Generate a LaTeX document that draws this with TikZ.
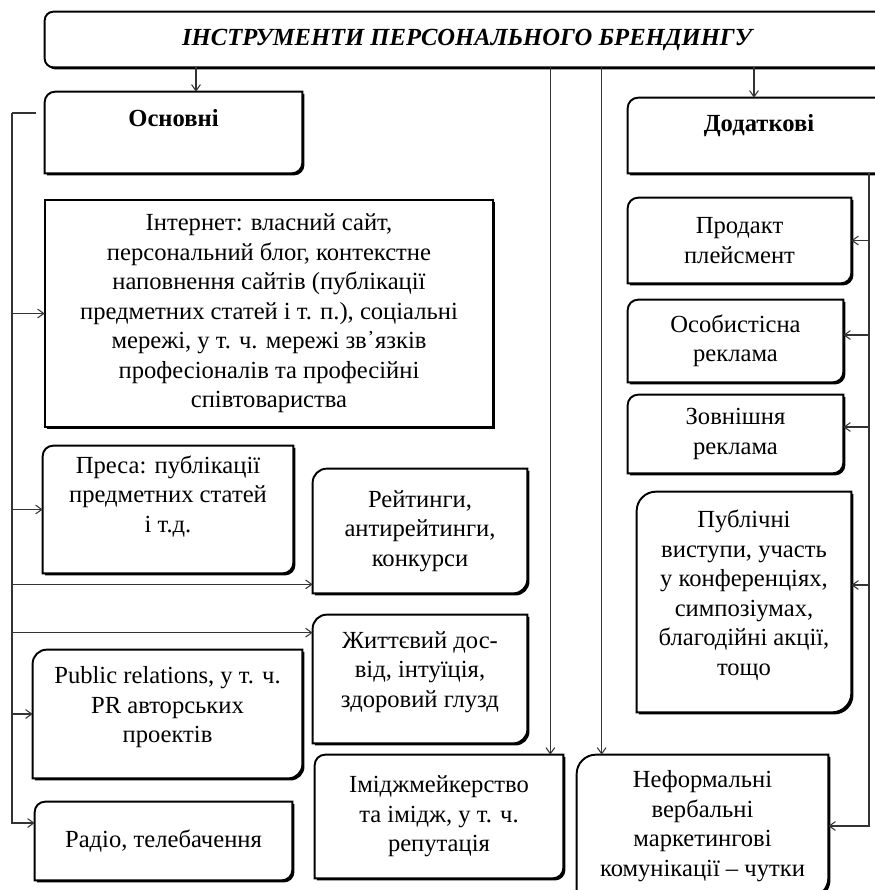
\documentclass[tikz,border=0pt]{standalone}
\usepackage{fontspec}
\setmainfont{Liberation Serif}
\usetikzlibrary{arrows.meta, backgrounds, shadows}
\definecolor{framedark}{HTML}{000000}
\definecolor{arrowgray}{HTML}{333333}

% frame with two rounded corners (top-left and bottom-right)
\newcommand{\brandframe}[2][rounded corners=6pt]{%
  \filldraw[frameline]
    (#2.north) -- (#2.north east) [#1] -- (#2.south east) [sharp corners]
    -- (#2.south west) [#1] -- (#2.north west) [sharp corners] -- cycle;}

\begin{document}
\begin{tikzpicture}[
  >={Straight Barb[length=3.5pt,width=5pt]},
  item/.style={
    rectangle, align=center, inner sep=2pt,
    font=\fontsize{14}{16.8}\selectfont
  },
  head/.style={item, font=\fontsize{14}{16.8}\selectfont\bfseries},
  lift/.style={text depth=#1},
  frameline/.style={
    fill=white, draw=framedark, line width=1.1pt,
    drop shadow={shadow xshift=1.2pt, shadow yshift=-1.2pt,
                 opacity=1, fill=framedark}
  },
  busline/.style={line width=0.6pt, draw=arrowgray},
  link/.style={->, line width=0.6pt, draw=arrowgray}
]
\useasboundingbox (0,0) rectangle (17.5,-17.8);
\clip (0,0) rectangle (17.5,-17.8);

% ── Title ─────────────────────────────────────────────────────────────────
\node[item, font=\fontsize{14}{16.8}\selectfont\bfseries\itshape,
      minimum width=16.88cm, minimum height=1.1cm]
  (title) at (9.34,-0.79) {ІНСТРУМЕНТИ ПЕРСОНАЛЬНОГО БРЕНДИНГУ};

% ── Main tools (left) ─────────────────────────────────────────────────────
\node[head, lift=0.58cm, minimum width=5.14cm, minimum height=1.62cm]
  (osn) at (3.47,-2.65) {Основні};

\node[item, minimum width=8.96cm, minimum height=4.54cm]
  (inet) at (5.38,-6.27) {Інтернет: власний сайт,\\
    персональний блог, контекстне\\
    наповнення сайтів (публікації\\
    предметних статей і т. п.), соціальні\\
    мережі, у т. ч. мережі зв᾽язків\\
    професіоналів та професійні\\
    співтовариства};

\node[item, lift=0.62cm, minimum width=5.0cm, minimum height=2.54cm]
  (press) at (3.36,-10.19) {Преса: публікації\\предметних статей\\і т.д.};

\node[item, minimum width=4.28cm, minimum height=2.48cm]
  (rat) at (8.4,-10.62) {Рейтинги,\\антирейтинги,\\конкурси};

\node[item, lift=0.38cm, minimum width=4.28cm, minimum height=2.56cm]
  (life) at (8.4,-13.58) {Життєвий дос-\\від, інтуїція,\\здоровий глузд};

\node[item, lift=0.38cm, minimum width=5.38cm, minimum height=2.56cm]
  (pr) at (3.35,-14.28) {Public relations, у т. ч.\\PR авторських\\проектів};

\node[item, minimum width=5.14cm, minimum height=1.56cm]
  (radio) at (3.27,-16.82) {Радіо, телебачення};

\node[item, minimum width=4.96cm, minimum height=2.46cm]
  (img) at (8.78,-16.33) {Іміджмейкерство\\та імідж, у т. ч.\\репутація};

% ── Additional tools (right) ──────────────────────────────────────────────
\node[head, lift=0.5cm, minimum width=5.24cm, minimum height=1.5cm]
  (dod) at (15.18,-2.71) {Додаткові};

\node[item, minimum width=4.46cm, minimum height=1.7cm]
  (prod) at (14.79,-4.81) {Продакт\\плейсмент};

\node[item, minimum width=4.3cm, minimum height=1.64cm]
  (osob) at (14.71,-6.82) {Особистісна\\реклама};

\node[item, minimum width=4.3cm, minimum height=1.56cm]
  (zovn) at (14.71,-8.68) {Зовнішня\\реклама};

\node[item, lift=0.38cm, minimum width=4.28cm, minimum height=4.4cm]
  (publ) at (14.88,-12.04) {Публічні\\виступи, участь\\у конференціях,\\симпозіумах,\\благодійні акції,\\тощо};

\node[item, minimum width=5.02cm, minimum height=2.84cm]
  (nef) at (14.05,-16.52) {Неформальні\\вербальні\\маркетингові\\комунікації – чутки};

% ── Frames behind the texts ───────────────────────────────────────────────
\begin{scope}[on background layer]
  \filldraw[frameline, rounded corners=5pt]
    (title.north west) rectangle ([xshift=0.4cm]title.south east);
  \filldraw[frameline] (inet.north west) rectangle (inet.south east);
  \brandframe{osn}
  \brandframe{dod}
  \brandframe{press}
  \brandframe[rounded corners=8pt]{rat}
  \brandframe[rounded corners=8pt]{life}
  \brandframe[rounded corners=8pt]{pr}
  \brandframe{radio}
  \brandframe{img}
  \brandframe{prod}
  \brandframe{osob}
  \brandframe{zovn}
  \brandframe[rounded corners=11pt]{publ}
  \brandframe[rounded corners=11pt]{nef}
\end{scope}

% ── Arrows from the title ─────────────────────────────────────────────────
\coordinate (osnin) at ([xshift=0.45cm]osn.north);
\coordinate (imgin) at ([xshift=-0.26cm]img.north east);
\coordinate (nefin) at ([xshift=0.5cm]nef.north west);
\coordinate (dodin) at ([xshift=-0.1cm]dod.north);
\draw[link] (title.south -| osnin) -- (osnin);
\draw[link] (title.south -| imgin) -- (imgin);
\draw[link] (title.south -| nefin) -- (nefin);
\draw[link] (title.south -| dodin) -- (dodin);

% ── Left bus ──────────────────────────────────────────────────────────────
\coordinate (lstub) at (0.72,-2.26);
\coordinate (lbus) at (0.24,-2.26);
\coordinate (ratin) at ([yshift=0.18cm]rat.south west);
\coordinate (lifein) at ([yshift=-0.36cm]life.north west);
\coordinate (radioin) at ([yshift=0.36cm]radio.west);
\draw[busline] (lstub) -- (lbus);
\draw[link] (lbus) |- (radioin);
\draw[link] (lbus |- inet.west) -- (inet.west);
\draw[link] (lbus |- press.west) -- (press.west);
\draw[link] (lbus |- ratin) -- (ratin);
\draw[link] (lbus |- lifein) -- (lifein);
\draw[link] (lbus |- pr.west) -- (pr.west);

% ── Right bus ─────────────────────────────────────────────────────────────
\coordinate (rbus) at (17.38,-3.4);
\coordinate (osobin) at ([yshift=0.12cm]osob.east);
\coordinate (zovnin) at ([yshift=0.14cm]zovn.east);
\coordinate (publin) at ([yshift=0.34cm]publ.east);
\draw[link] (rbus |- dod.south) |- (nef.east);
\draw[link] (rbus |- prod.east) -- (prod.east);
\draw[link] (rbus |- osobin) -- (osobin);
\draw[link] (rbus |- zovnin) -- (zovnin);
\draw[link] (rbus |- publin) -- (publin);

\end{tikzpicture}
\end{document}
